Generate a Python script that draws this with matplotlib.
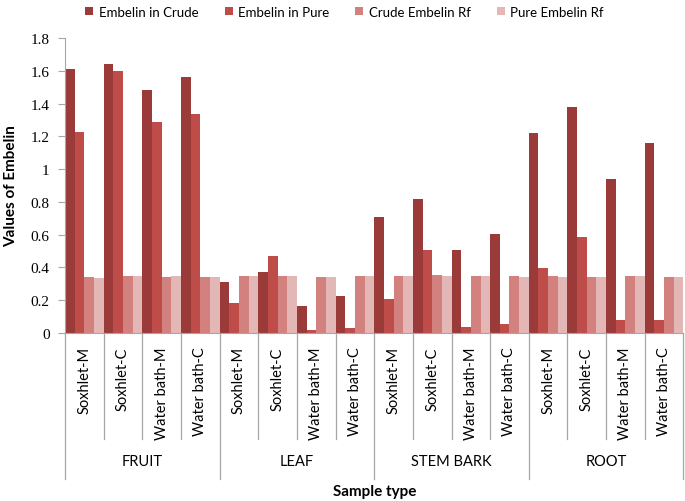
import matplotlib.pyplot as plt
import matplotlib.transforms as mtransforms
import numpy as np

plt.rcParams['font.family'] = ['Lato', 'DejaVu Sans']

groups = ['FRUIT', 'LEAF', 'STEM BARK', 'ROOT']
methods = ['Soxhlet-M', 'Soxhlet-C', 'Water bath-M', 'Water bath-C']
series_names = ['Embelin in Crude', 'Embelin in Pure', 'Crude Embelin Rf', 'Pure Embelin Rf']

crude = [1.61, 1.64, 1.48, 1.56,
         0.31, 0.37, 0.165, 0.225,
         0.705, 0.82, 0.505, 0.605,
         1.22, 1.38, 0.94, 1.16]
pure = [1.225, 1.598, 1.29, 1.338,
        0.185, 0.468, 0.02, 0.032,
        0.206, 0.505, 0.037, 0.053,
        0.399, 0.584, 0.081, 0.081]
crude_rf = [0.344, 0.35, 0.344, 0.344,
            0.35, 0.346, 0.34, 0.346,
            0.346, 0.352, 0.346, 0.346,
            0.35, 0.344, 0.35, 0.344]
pure_rf = [0.338, 0.348, 0.348, 0.344,
           0.346, 0.346, 0.34, 0.35,
           0.346, 0.346, 0.346, 0.342,
           0.344, 0.344, 0.35, 0.344]

COLORS = ['#9A3B39', '#BE4D4A', '#D3817F', '#E3B7B6']
GRID = '#A6A6A6'

fig = plt.figure(figsize=(6.85, 5.02), dpi=100)
ax = fig.add_axes([0.0949, 0.3347, 0.9028, 0.5876])

n = len(groups) * len(methods)
x = np.arange(n)
width = 0.25
offsets = [-1.5 * width, -0.5 * width, 0.5 * width, 1.5 * width]
handles = []
for vals, off, col, name in zip([crude, pure, crude_rf, pure_rf], offsets, COLORS, series_names):
    h = ax.bar(x + off, vals, width=width, color=col, label=name, linewidth=0, zorder=2)
    handles.append(h)

ax.set_xlim(-0.5, n - 0.5)
ax.set_ylim(0, 1.8)
ax.set_yticks(np.arange(0, 1.81, 0.2))
ax.set_yticklabels(['0', '0.2', '0.4', '0.6', '0.8', '1', '1.2', '1.4', '1.6', '1.8'],
                   family='Liberation Serif', fontsize=11)
ax.tick_params(axis='y', length=5, color=GRID, pad=6)
ax.set_xticks([])
for s in ['top', 'right']:
    ax.spines[s].set_visible(False)
ax.spines['left'].set_color(GRID)
ax.spines['bottom'].set_color(GRID)

# multi-level category axis below the plot
trans = mtransforms.blended_transform_factory(ax.transData, ax.transAxes)
for i in range(n + 1):
    bottom = -0.495 if i % len(methods) == 0 else -0.359
    ax.plot([i - 0.5, i - 0.5], [0, bottom], color=GRID, lw=0.9,
            transform=trans, clip_on=False)
for i in range(n):
    ax.text(i, -0.045, methods[i % len(methods)], rotation=90, ha='center', va='top',
            fontsize=10.5, transform=trans)
for g, name in enumerate(groups):
    ax.text(g * len(methods) + 1.5, -0.435, name, ha='center', va='center',
            fontsize=10.5, transform=trans)

ax.text(0.5, -0.535, 'Sample type', ha='center', va='center', fontsize=11,
        fontweight='bold', transform=ax.transAxes)
ax.set_ylabel('Values of Embelin', fontsize=11, fontweight='bold', labelpad=9)

fig.legend(handles=handles, loc='center', bbox_to_anchor=(0.503, 0.975), ncol=4,
           frameon=False, fontsize=9.5, handlelength=0.6, handleheight=0.6,
           handletextpad=0.4, columnspacing=2.0)

fig.savefig('out.png', dpi=100)
